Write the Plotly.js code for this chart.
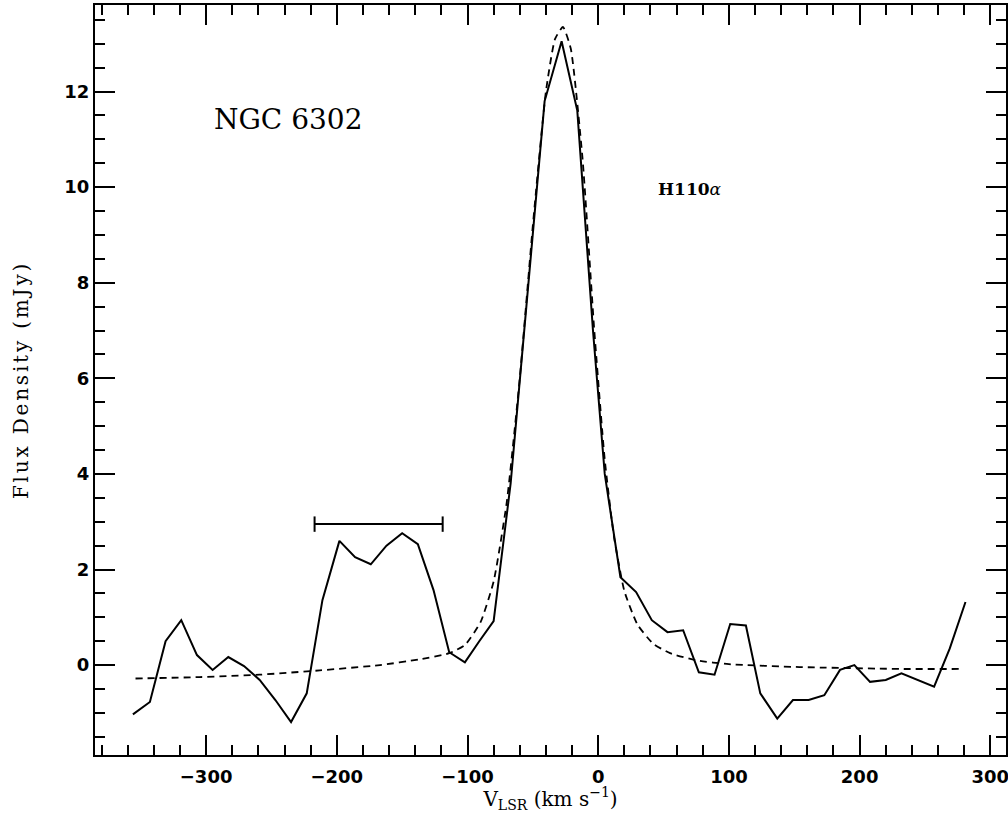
<!DOCTYPE html>
<html>
<head>
<meta charset="utf-8">
<script src="https://cdn.plot.ly/plotly-3.0.1.min.js"></script>
<style>html,body{margin:0;padding:0;background:#fff;}#chart{width:1008px;height:813px;}
.ytitle{letter-spacing:2.8px;}
</style>
</head>
<body>
<div id="chart"></div>
<script>
// Observed H110α spectrum (solid line)
var velObs = [-356,-343,-331,-319,-307,-295,-283,-271,-259,-247,-235,-223,-211,-198,-186,-174,-162,-150,-138,-126,-114,-102,-91,-80,-67,-54,-41,-28,-16,-4,5,17,29,41,53,65,77,89,101,113,124,137,149,161,173,185,196,208,220,232,244,257,269,281];
var fluxObs = [-1.03,-0.77,0.5,0.94,0.21,-0.1,0.17,-0.02,-0.31,-0.73,-1.19,-0.59,1.36,2.6,2.26,2.11,2.5,2.76,2.53,1.57,0.27,0.06,0.5,0.92,3.8,7.8,11.8,13.05,11.6,7.0,4.0,1.84,1.53,0.94,0.69,0.73,-0.15,-0.2,0.86,0.83,-0.59,-1.12,-0.73,-0.73,-0.63,-0.1,0.0,-0.35,-0.31,-0.17,-0.31,-0.45,0.35,1.32];
// Fitted profile (dashed line)
var velFit = [-354,-305,-259,-213,-167,-137,-114,-102,-90,-80,-70,-60,-50,-40,-33,-27,-21,-12,-3,5,12,20,30,42,55,75,100,154,231,277];
var fluxFit = [-0.28,-0.25,-0.2,-0.11,0.0,0.12,0.25,0.42,0.9,1.75,3.4,6.0,9.2,12.0,13.1,13.35,12.9,10.6,7.0,4.3,2.7,1.55,0.85,0.45,0.25,0.1,0.02,-0.04,-0.08,-0.08];
// Horizontal bar marking the velocity range of the feature
var barVel = [-217,-119];
var barFlux = [2.95,2.95];

var xTicks = [-300,-200,-100,0,100,200,300];
var xTickText = ['\u2212300','\u2212200','\u2212100','0','100','200','300'];
var yTicks = [0,2,4,6,8,10,12];

var traces = [
  {x: velObs, y: fluxObs, mode: 'lines', line: {color: '#000', width: 2}},
  {x: velFit, y: fluxFit, mode: 'lines', line: {color: '#000', width: 1.8, dash: '7px,5px', shape: 'spline', smoothing: 0.5}},
  {x: barVel, y: barFlux, mode: 'lines+markers', line: {color: '#000', width: 2},
   marker: {symbol: 'line-ns', size: 11, line: {color: '#000', width: 2}}}
];

var tickFont = {family: 'DejaVu Sans, Verdana, sans-serif', size: 18, color: '#000', weight: 'bold'};
var serif = 'DejaVu Serif, Liberation Serif, serif';

var layout = {
  width: 1008, height: 813,
  margin: {l: 95, r: 2, t: 5, b: 58, pad: 0},
  paper_bgcolor: '#fff', plot_bgcolor: '#fff',
  showlegend: false,
  font: {family: serif, color: '#000'},
  xaxis: {
    range: [-385, 312], autorange: false,
    tickvals: xTicks, ticktext: xTickText,
    ticks: 'inside', ticklen: 20, tickwidth: 2, tickcolor: '#000',
    minor: {dtick: 20, tick0: 0, ticks: 'inside', ticklen: 10, tickwidth: 2, tickcolor: '#000'},
    showline: true, linewidth: 2, linecolor: '#000', mirror: 'ticks',
    showgrid: false, zeroline: false,
    tickfont: tickFont, ticklabeloverflow: 'allow', ticklabelstandoff: 4,
    title: {text: 'V<sub>LSR</sub> (km s<sup>\u22121</sup>)', font: {family: serif, size: 20, color: '#000'}, standoff: 0}
  },
  yaxis: {
    range: [-1.88, 13.81], autorange: false,
    tickvals: yTicks,
    ticks: 'inside', ticklen: 20, tickwidth: 2, tickcolor: '#000',
    minor: {dtick: 0.5, tick0: 0, ticks: 'inside', ticklen: 10, tickwidth: 2, tickcolor: '#000'},
    showline: true, linewidth: 2, linecolor: '#000', mirror: 'ticks',
    showgrid: false, zeroline: false,
    tickfont: tickFont,
    title: {text: 'Flux Density (mJy)', font: {family: serif, size: 20, color: '#000'}, standoff: 30}
  },
  annotations: [
    {xref: 'paper', yref: 'paper', x: 0.128, y: 0.848, xanchor: 'left', yanchor: 'middle',
     text: 'NGC 6302', showarrow: false, font: {family: serif, size: 28, color: '#000'}},
    {xref: 'paper', yref: 'paper', x: 0.616, y: 0.755, xanchor: 'left', yanchor: 'middle',
     text: '<b>H110</b><i>\u03b1</i>', showarrow: false, font: {family: serif, size: 17, color: '#000'}}
  ]
};

Plotly.newPlot('chart', traces, layout, {displayModeBar: false, staticPlot: true});
</script>
</body>
</html>
